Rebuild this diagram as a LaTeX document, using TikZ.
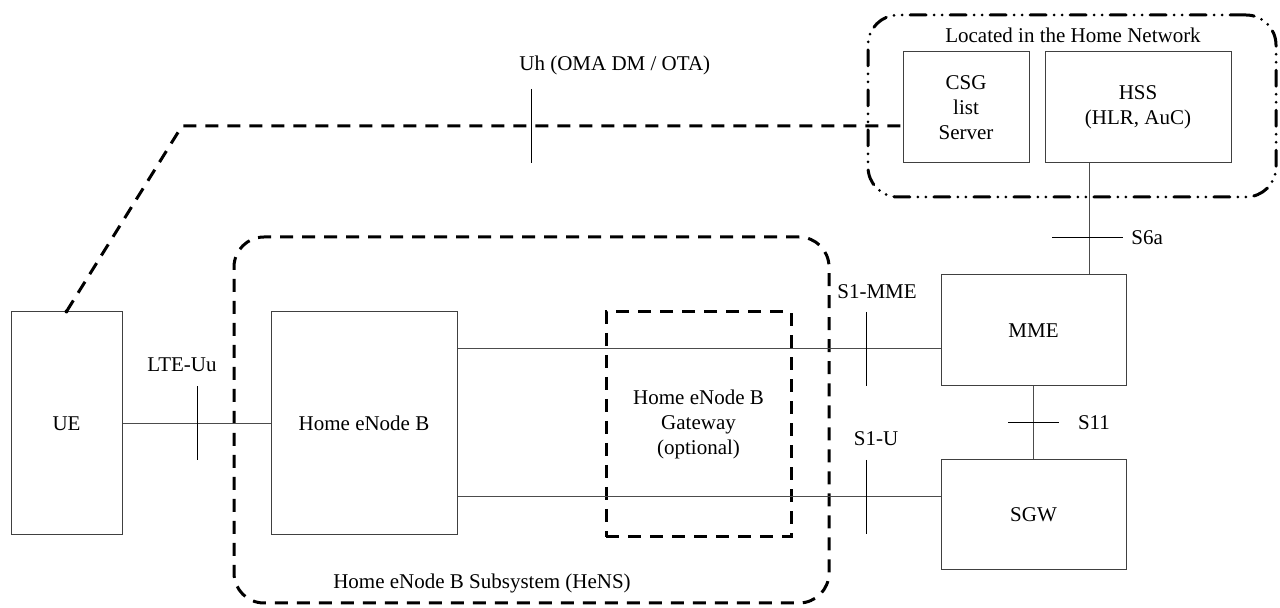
\documentclass[tikz,border=0pt]{standalone}
\usepackage{fontspec}
\setmainfont{Liberation Serif}
\begin{document}
\begin{tikzpicture}[x=0.5pt, y=-0.5pt, font=\fontsize{10.5}{12.5}\selectfont]

\tikzstyle{box}=[rectangle, draw=black!75, line width=0.5pt, inner sep=0pt, align=center]
\tikzstyle{group}=[rectangle, draw, line width=1.5pt, inner sep=0pt, rounded corners=15pt]
\tikzstyle{dashbox}=[dash pattern=on 6.5pt off 4.5pt]
\tikzstyle{dotbox}=[line cap=round, dash pattern=on 8pt off 4pt on 0pt off 4pt on 0pt off 4pt]
\tikzstyle{link}=[draw=black!70, line width=0.5pt]
\tikzstyle{tick}=[draw=black, line width=0.5pt]
\tikzstyle{uhline}=[line width=1.5pt, dash pattern=on 6.5pt off 4.5pt]

\useasboundingbox (0,0) rectangle (1280,608);

% network elements
\node (ue)   [box, minimum width=55.5pt, minimum height=111.5pt] at (66.5,423.5) {UE};
\node (henb) [box, minimum width=93pt, minimum height=111.5pt] at (364,423.5) {Home eNode B};
\node (hgw)  [box, draw=black, line width=1.5pt, dashbox, minimum width=92.5pt, minimum height=112.5pt] at (698.5,424.5) {Home eNode B\\Gateway\\(optional)};
\node (mme)  [box, minimum width=92.5pt, minimum height=55.5pt] at (1033.5,330.5) {MME};
\node (sgw)  [box, minimum width=92.5pt, minimum height=55pt] at (1033.5,515) {SGW};
\node (csg)  [box, minimum width=63pt, minimum height=55.5pt] at (966,107.5) {CSG\\list\\Server};
\node (hss)  [box, minimum width=93pt, minimum height=55.5pt] at (1138,107.5) {HSS\\(HLR, AuC)};

% groups
\node (hens) [group, dashbox, minimum width=297.5pt, minimum height=183pt] at (531.5,420) {};
\node (home) [group, dotbox, minimum width=204pt, minimum height=91pt] at (1072,106) {};
\node (homelbl) at (1073,35) {Located in the Home Network};
\node (henslbl) at (482,583) {Home eNode B Subsystem (HeNS)};

% reference points
\coordinate (uu)   at (197,423.5);
\coordinate (s1m)  at (866,349);
\coordinate (s1u)  at (866,497);
\coordinate (uh)   at (531,126);
\coordinate (s6a)  at (1089,238);
\coordinate (s11)  at (1033.5,423);
\coordinate (bend) at (182,126);

\draw [link] (ue) -- (henb);
\draw [link] (henb.east |- s1m) -- (mme.west |- s1m);
\draw [link] (henb.east |- s1u) -- (sgw.west |- s1u);
\draw [link] (mme) -- (sgw);
\draw [link] (hss.south -| s6a) -- (mme.north -| s6a);
\draw [uhline] (ue.north) -- (bend) -- (csg.west |- bend);
\fill (ue.north) circle (1pt);

\foreach \c in {uu,s1m,s1u,uh}
  \draw [tick] ([yshift=18.5pt]\c) -- ([yshift=-18.5pt]\c);
\draw [tick] ([xshift=-18.5pt]s6a) -- ([xshift=17pt]s6a);
\draw [tick] ([xshift=-12.75pt]s11) -- ([xshift=12.75pt]s11);

\node (uulbl)  at (182,365) {LTE-Uu};
\node (s1mlbl) at (877,292) {S1-MME};
\node (s1ulbl) at (876,439) {S1-U};
\node (s11lbl) at (1094,423) {S11};
\node (s6albl) [anchor=west, inner sep=0pt] at (1131,238) {S6a};
\node (uhlbl)  [anchor=west, inner sep=0pt] at (519,65) {Uh (OMA DM / OTA)};

\end{tikzpicture}
\end{document}
